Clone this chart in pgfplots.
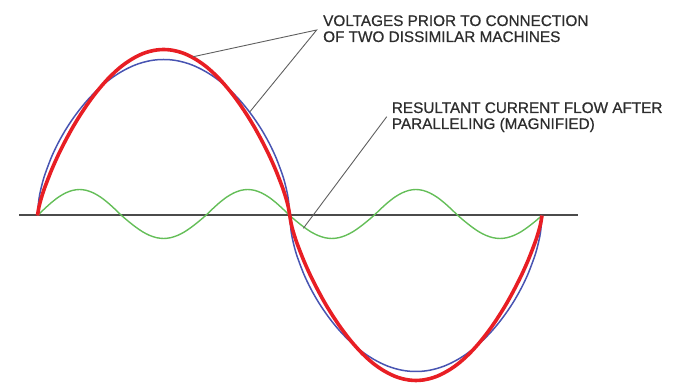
\documentclass[border=0pt]{standalone}
\usepackage{pgfplots}
\pgfplotsset{compat=1.18}
\usepackage{fontspec}
\setmainfont{Liberation Sans}
\newfontfamily\heavy[FakeBold=0.7]{Liberation Sans}
\definecolor{vred}{RGB}{232,30,36}
\definecolor{vblue}{RGB}{72,84,178}
\definecolor{vgreen}{RGB}{100,190,88}
\definecolor{txt}{RGB}{45,45,45}
\definecolor{lead}{RGB}{95,95,95}
\definecolor{axl}{RGB}{75,75,75}
\begin{document}
\begin{tikzpicture}
\useasboundingbox (0,0) rectangle (677pt,387pt);
\begin{axis}[
  x=1.4014pt, y=1pt,
  anchor=origin, at={(37.5pt,171.5pt)},
  xmin=-13.2, xmax=385.7, ymin=-171.5, ymax=215.5,
  hide axis, clip=false,
]
% zero line
\addplot[axl, line width=2pt] coordinates {(-13.2,0) (385.7,0)};
% resultant current (magnified)
\addplot[vgreen, line width=1.4pt, smooth] coordinates {
(0,0) (5,6.7) (10,13) (15,18.4) (20,22.5) (25,25.1) (30,26) (35,25.1) (40,22.5) (45,18.4) (50,13) (55,6.7)
(60,0) (65,-6.0) (70,-11.5) (75,-16.3) (80,-19.9) (85,-22.2) (90,-23) (95,-22.2) (100,-19.9) (105,-16.3) (110,-11.5) (115,-6.0)
(120,0) (125,6.7) (130,13) (135,18.4) (140,22.5) (145,25.1) (150,26) (155,25.1) (160,22.5) (165,18.4) (170,13) (175,6.7)
(180,0) (185,-6.0) (190,-11.5) (195,-16.3) (200,-19.9) (205,-22.2) (210,-23) (215,-22.2) (220,-19.9) (225,-16.3) (230,-11.5) (235,-6.0)
(240,0) (245,6.7) (250,13) (255,18.4) (260,22.5) (265,25.1) (270,26) (275,25.1) (280,22.5) (285,18.4) (290,13) (295,6.7)
(300,0) (305,-6.0) (310,-11.5) (315,-16.3) (320,-19.9) (325,-22.2) (330,-23) (335,-22.2) (340,-19.9) (345,-16.3) (350,-11.5) (355,-6.0)
(360,0)};
% blue voltage (flat topped)
\addplot[vblue, line width=1.5pt, smooth] coordinates {
(0,0) (1,16.2) (2.5,27.0) (5,39.8) (10,58.5) (15,73.2) (20,85.6) (25,96.3) (30,105.8) (35,114.3) (40,121.8) (45,128.5)
(50,134.4) (55,139.5) (60,143.9) (65,147.6) (70,150.7) (75,153.0) (80,154.7) (85,155.7) (90,156)
(95,155.7) (100,154.7) (105,153.0) (110,150.7) (115,147.6) (120,143.9) (125,139.5) (130,134.4) (135,128.5) (140,121.8)
(145,114.3) (150,105.8) (155,96.3) (160,85.6) (165,73.2) (170,58.5) (175,39.8) (177.5,27.0) (179,16.2) (180,0)
(181,-16.2) (182.5,-27.0) (185,-39.8) (190,-58.5) (195,-73.2) (200,-85.6) (205,-96.3) (210,-105.8) (215,-114.3) (220,-121.8) (225,-128.5)
(230,-134.4) (235,-139.5) (240,-143.9) (245,-147.6) (250,-150.7) (255,-153.0) (260,-154.7) (265,-155.7) (270,-156)
(275,-155.7) (280,-154.7) (285,-153.0) (290,-150.7) (295,-147.6) (300,-143.9) (305,-139.5) (310,-134.4) (315,-128.5) (320,-121.8)
(325,-114.3) (330,-105.8) (335,-96.3) (340,-85.6) (345,-73.2) (350,-58.5) (355,-39.8) (357.5,-27.0) (359,-16.2) (360,0)};
% red voltage (peaked)
\addplot[vred, line width=3.6pt, smooth] coordinates {
(0,0) (1,8.3) (2.5,16.4) (5,27.3) (10,45.4) (15,61.1) (20,75.0) (25,87.8) (30,99.4) (35,110.0) (40,119.7) (45,128.4)
(50,136.3) (55,143.2) (60,149.3) (65,154.3) (70,158.5) (75,161.8) (80,164.1) (85,165.5) (90,166)
(95,165.5) (100,164.1) (105,161.8) (110,158.5) (115,154.3) (120,149.3) (125,143.2) (130,136.3) (135,128.4) (140,119.7)
(145,110.0) (150,99.4) (155,87.8) (160,75.0) (165,61.1) (170,45.4) (175,27.3) (177.5,16.4) (179,8.3) (180,0)
(181,-8.2) (182.5,-16.3) (185,-27.1) (190,-45.1) (195,-60.7) (200,-74.5) (205,-87.3) (210,-98.8) (215,-109.4) (220,-119.0) (225,-127.7)
(230,-135.5) (235,-142.4) (240,-148.4) (245,-153.4) (250,-157.5) (255,-160.8) (260,-163.1) (265,-164.5) (270,-165)
(275,-164.5) (280,-163.1) (285,-160.8) (290,-157.5) (295,-153.4) (300,-148.4) (305,-142.4) (310,-135.5) (315,-127.7) (320,-119.0)
(325,-109.4) (330,-98.8) (335,-87.3) (340,-74.5) (345,-60.7) (350,-45.1) (355,-27.1) (357.5,-16.3) (359,-8.2) (360,0)};
% leader lines
\draw[lead, line width=0.9pt] (axis cs:111.2,158.8) -- (axis cs:199.2,185.5) -- (axis cs:151.6,103.8);
\draw[lead, line width=0.9pt] (axis cs:249.2,98.8) -- (axis cs:189.7,-12.8);
\end{axis}
\begin{scope}[every node/.style={inner sep=0pt, anchor=base west, text=txt, font=\heavy\fontsize{15.3}{16.5}\selectfont}]
\node at (323pt,361pt) {VOLTAGES PRIOR TO CONNECTION};
\node at (323pt,345pt) {OF TWO DISSIMILAR MACHINES};
\node at (391.7pt,274pt) {RESULTANT CURRENT FLOW AFTER};
\node at (391.7pt,258pt) {PARALLELING (MAGNIFIED)};
\end{scope}
\end{tikzpicture}
\end{document}
